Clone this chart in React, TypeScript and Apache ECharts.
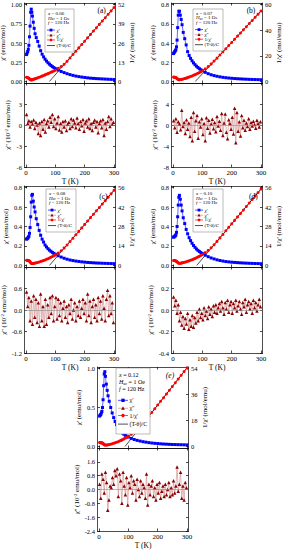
import React, { useEffect, useRef } from 'react';
import * as echarts from 'echarts';

const FONT = '"Liberation Serif", "Times New Roman", serif';

// Temperature grid (K) of the top (chi', 1/chi') curves
const T_TOP = [2, 4, 6, 8, 10, 12, 14, 16, 18, 20, 22, 25, 28, 31, 35, 40, 45, 50, 55, 60, 65, 70, 75, 80, 85, 90, 95, 100, 110, 120, 130, 140, 150, 160, 170, 180, 190, 200, 210, 220, 230, 240, 250, 260, 270, 280, 290, 300];
// Temperature grid (K) of the chi'' curves
const T_BOT = [2, 6, 10, 14, 18, 22, 26, 30, 34, 38, 42, 46, 50, 54, 58, 62, 66, 70, 74, 78, 82, 86, 90, 94, 98, 102, 106, 110, 114, 118, 122, 126, 130, 134, 138, 142, 146, 150, 154, 158, 162, 166, 170, 174, 178, 182, 186, 190, 194, 198, 202, 206, 210, 214, 218, 222, 226, 230, 234, 238, 242, 246, 250, 254, 258, 262, 266, 270, 274, 278, 282, 286, 290, 294, 298];

// (a) x = 0.06
const CHI_A = [0.35, 0.37, 0.39, 0.42, 0.47, 0.58, 0.72, 0.90, 0.94, 0.90, 0.85, 0.77, 0.69, 0.62, 0.57, 0.52, 0.46, 0.40, 0.355, 0.32, 0.29, 0.265, 0.243, 0.225, 0.208, 0.193, 0.18, 0.168, 0.148, 0.13, 0.115, 0.101, 0.089, 0.079, 0.07, 0.063, 0.057, 0.052, 0.047, 0.043, 0.04, 0.037, 0.035, 0.033, 0.031, 0.029, 0.027, 0.025];
const INV_A = [2.86, 2.7, 2.56, 2.38, 2.13, 1.72, 1.39, 1.11, 1.06, 1.15, 1.25, 1.43, 1.61, 1.82, 2.08, 2.44, 2.82, 3.2, 3.6, 4.0, 4.45, 4.9, 5.3, 5.75, 6.2, 6.65, 7.1, 7.6, 8.85, 10.1, 11.6, 13.6, 15.9, 18.2, 20.4, 22.7, 25.0, 27.2, 29.5, 31.8, 34.1, 36.3, 38.6, 40.9, 43.1, 45.4, 47.7, 50.0];
const LOSS_A = [1.5, 0.2, 0.6, -0.3, 0.5, 0.1, 0.7, -0.5, 0.4, 0.0, -1.2, 0.3, -1.5, 0.5, -0.6, 0.8, -1.0, 0.2, 0.6, -0.3, 1.1, 0.4, 1.5, -0.2, 0.9, -0.5, 0.3, 1.2, -0.7, 0.2, -1.0, 0.5, -0.3, 0.6, -0.8, 0.1, 0.4, -0.5, 0.9, -0.2, 0.7, 0.3, -0.4, 1.0, 0.2, -0.6, 0.5, -0.1, 0.8, -0.9, 0.3, 0.6, -0.3, 0.9, -0.5, 0.2, -0.8, 0.4, 0.7, -0.3, 0.5, -1.1, 0.2, 0.6, -0.4, 0.8, -1.5, 0.3, -0.6, 0.5, 1.2, -0.2, 0.9, 0.1, 0.4];
const FIT_T_A = [80, 300];
const FIT_V_A = [0, 50];

// (b) x = 0.07
const CHI_B = [0.29, 0.30, 0.31, 0.32, 0.33, 0.36, 0.43, 0.56, 0.69, 0.73, 0.73, 0.69, 0.645, 0.59, 0.51, 0.445, 0.38, 0.31, 0.27, 0.24, 0.215, 0.193, 0.175, 0.159, 0.145, 0.133, 0.122, 0.112, 0.095, 0.081, 0.070, 0.061, 0.054, 0.048, 0.043, 0.039, 0.0357, 0.0329, 0.0304, 0.0282, 0.0265, 0.0248, 0.0234, 0.0221, 0.021, 0.020, 0.019, 0.018];
const INV_B = [3.4, 3.3, 3.2, 3.1, 3.0, 2.75, 2.3, 1.8, 1.45, 1.37, 1.37, 1.45, 1.55, 1.7, 1.95, 2.25, 2.6, 3.0, 3.4, 3.85, 4.3, 4.8, 5.3, 5.8, 6.4, 7.0, 7.6, 8.3, 9.8, 11.6, 13.7, 15.9, 18.2, 20.6, 23.1, 25.5, 28.0, 30.4, 32.9, 35.4, 37.8, 40.3, 42.7, 45.2, 47.6, 50.1, 52.5, 55.0];
const LOSS_B = [0.8, -0.5, 1.2, -1.4, 0.6, 0.2, -0.9, 2.8, -0.3, 0.5, -1.6, 1.0, -0.8, 0.4, -2.2, 1.5, -3.0, 2.4, -1.2, 0.8, 1.8, -2.5, 0.6, -0.4, 1.2, -1.8, 0.3, -3.0, 1.4, -0.6, 0.9, -1.5, 0.2, 1.1, -0.7, 0.5, -1.3, 1.6, -0.2, 0.7, -1.0, 2.2, -2.0, 0.4, 2.1, -1.4, -2.6, 1.0, 0.3, -0.8, 1.5, -1.7, 3.2, -3.4, 2.4, -1.2, 0.6, -2.1, 1.8, -0.5, 0.9, -1.0, 0.4, -0.3, 1.2, -0.8, 0.5, -0.2, 0.7, 0.1, -0.6, 0.9, 0.3, -0.4, 0.6];
const FIT_T_B = [76, 300];
const FIT_V_B = [0, 55];

// (c) x = 0.08
const CHI_C = [0.27, 0.275, 0.28, 0.29, 0.30, 0.33, 0.39, 0.50, 0.65, 0.72, 0.73, 0.66, 0.60, 0.55, 0.48, 0.42, 0.36, 0.31, 0.27, 0.24, 0.21, 0.19, 0.172, 0.157, 0.145, 0.134, 0.124, 0.115, 0.099, 0.086, 0.074, 0.064, 0.056, 0.050, 0.045, 0.041, 0.037, 0.034, 0.031, 0.029, 0.027, 0.025, 0.024, 0.0226, 0.0215, 0.0204, 0.0194, 0.0185];
const INV_C = [3.7, 3.65, 3.6, 3.5, 3.4, 3.1, 2.6, 2.0, 1.55, 1.4, 1.38, 1.45, 1.55, 1.7, 1.9, 2.15, 2.45, 2.8, 3.15, 3.55, 3.95, 4.4, 4.85, 5.3, 5.85, 6.4, 7.0, 7.6, 9.0, 10.6, 12.6, 14.7, 17.2, 19.6, 22.1, 24.5, 27.0, 29.5, 31.9, 34.4, 36.8, 39.3, 41.7, 44.2, 46.6, 49.1, 51.6, 54.0];
const LOSS_C = [0.5, 0.1, 0.35, -0.3, 0.25, -0.4, 0.4, -0.2, 0.3, -0.35, 0.2, -0.45, 0.45, -0.3, 0.1, -0.45, 0.3, -0.4, 0.15, -0.2, 0.35, -0.1, 0.4, -0.3, 0.1, 0.35, -0.25, 0.3, -0.15, 0.2, -0.3, 0.05, 0.25, -0.2, 0.1, -0.35, 0.15, -0.1, 0.3, -0.25, 0.0, 0.2, -0.3, 0.1, -0.15, 0.25, -0.2, 0.05, 0.3, -0.1, 0.2, -0.3, 0.45, -0.15, 0.25, -0.35, 0.1, 0.3, -0.2, 0.15, -0.3, 0.35, -0.1, 0.25, -0.25, 0.4, 0.05, -0.3, 0.3, 0.55, -0.15, 0.4, -0.1, 0.2, -0.35];
const FIT_T_C = [80, 300];
const FIT_V_C = [0, 54];

// (d) x = 0.10
const CHI_D = [0.29, 0.295, 0.30, 0.305, 0.315, 0.34, 0.40, 0.50, 0.62, 0.70, 0.72, 0.68, 0.62, 0.56, 0.49, 0.43, 0.37, 0.325, 0.285, 0.255, 0.228, 0.205, 0.186, 0.169, 0.155, 0.143, 0.132, 0.122, 0.105, 0.090, 0.077, 0.067, 0.058, 0.051, 0.045, 0.040, 0.0365, 0.0334, 0.031, 0.0287, 0.0267, 0.025, 0.0236, 0.0223, 0.0211, 0.020, 0.019, 0.018];
const INV_D = [3.55, 3.5, 3.45, 3.35, 3.2, 3.0, 2.6, 2.1, 1.75, 1.6, 1.55, 1.6, 1.7, 1.85, 2.05, 2.3, 2.6, 2.95, 3.3, 3.7, 4.1, 4.55, 5.0, 5.5, 6.05, 6.6, 7.2, 7.8, 9.2, 10.8, 12.7, 14.8, 17.3, 19.8, 22.3, 24.9, 27.4, 29.9, 32.4, 34.9, 37.4, 39.9, 42.4, 44.9, 47.5, 50.0, 52.5, 55.0];
const LOSS_D = [0.12, 0.04, 0.09, -0.03, 0.05, -0.10, -0.02, -0.14, -0.06, -0.17, -0.08, -0.13, -0.03, -0.18, -0.09, -0.15, -0.05, -0.16, -0.07, -0.12, -0.02, -0.10, 0.01, -0.07, -0.03, -0.09, 0.02, -0.05, -0.01, -0.08, 0.03, -0.04, 0.01, -0.06, 0.04, -0.02, 0.05, -0.03, 0.02, 0.06, -0.01, 0.08, 0.02, -0.04, 0.07, 0.01, 0.09, -0.02, 0.05, 0.08, -0.03, 0.06, 0.02, 0.09, -0.01, 0.04, 0.08, 0.01, -0.04, 0.07, 0.03, 0.10, -0.02, 0.05, 0.08, 0.01, 0.06, -0.03, 0.09, 0.02, 0.07, -0.01, 0.05, 0.10, 0.03];
const FIT_T_D = [81, 300];
const FIT_V_D = [0, 55];

// (e) x = 0.12
const CHI_E = [0.39, 0.40, 0.41, 0.43, 0.45, 0.50, 0.60, 0.78, 0.93, 0.96, 0.90, 0.80, 0.72, 0.65, 0.58, 0.50, 0.43, 0.37, 0.32, 0.28, 0.245, 0.215, 0.192, 0.173, 0.157, 0.143, 0.131, 0.12, 0.103, 0.089, 0.078, 0.069, 0.061, 0.055, 0.049, 0.044, 0.040, 0.037, 0.034, 0.031, 0.029, 0.027, 0.025, 0.024, 0.023, 0.022, 0.021, 0.020];
const INV_E = [2.7, 2.65, 2.6, 2.55, 2.45, 2.3, 2.0, 1.6, 1.2, 1.05, 1.0, 1.0, 1.05, 1.15, 1.3, 1.55, 1.85, 2.15, 2.5, 2.9, 3.3, 3.75, 4.2, 4.7, 5.25, 5.8, 6.4, 7.0, 8.4, 9.9, 11.6, 13.5, 15.8, 18.3, 20.9, 23.5, 26.1, 28.7, 31.3, 33.8, 36.4, 39.0, 41.6, 44.2, 46.8, 49.3, 51.9, 54.5];
const LOSS_E = [0.3, -0.5, 0.9, 0.6, -0.2, 1.0, 0.4, -1.2, -0.6, 0.2, 0.1, 0.7, 0.3, 1.1, 0.8, 1.2, -0.4, 0.9, 0.5, -0.8, 1.0, 0.2, -0.3, 0.7, -0.9, 0.4, 0.1, 0.8, -0.2, 0.5, 0.3, -0.6, 0.6, 0.0, -0.4, 0.5, -0.2, 0.3, 0.1, -0.5, 0.9, -0.9, 0.3, -0.3, 0.2, 0.5, -0.4, 0.1, -0.6, 0.3, -0.2, 0.4, -0.5, -0.1, 0.2, -0.4, 0.3, -0.3, 0.0, 0.4, -0.4, 0.1, -0.3, 0.5, -0.2, 0.2, 1.3, -0.1, 0.3, 1.0, -0.5, 0.2, -0.6, 0.4, 0.1];
const FIT_T_E = [89, 300];
const FIT_V_E = [0, 54.5];

// Tick labels
const X_TICKS = [0, 100, 200, 300];
const CHI_TICKS_A = [0, 0.25, 0.5, 0.75, 1.0];
const CHI_TICKS_B = [0, 0.2, 0.4, 0.6, 0.8];
const CHI_TICKS_E = [0, 0.5, 1.0];
const INV_TICKS_A = [0, 13, 26, 39, 52];
const INV_TICKS_B = [0, 20, 40, 60];
const INV_TICKS_C = [0, 14, 28, 42, 56];
const INV_TICKS_E = [0, 18, 36, 54];
const LOSS_TICKS_A = [-6, -3, 0, 3, 6];
const LOSS_TICKS_B = [-8, -4, 0, 4, 8];
const LOSS_TICKS_C = [-1.2, -0.6, 0, 0.6, 1.2];
const LOSS_TICKS_D = [-0.4, -0.2, 0, 0.2, 0.4];
const LOSS_TICKS_E = [-2.4, -1.6, -0.8, 0, 0.8, 1.6, 2.4];

const PANELS = [
  { id: '(a)', xv: '0.06', italic: false, left: 24.5, top: 3, topH: 80, botH: 84,
    chiMin: -0.02, chiMax: 1.02, chiTicks: CHI_TICKS_A, chiDec: 2,
    invMin: -1.04, invMax: 53.04, invTicks: INV_TICKS_A,
    lossMin: -6, lossMax: 6, lossTicks: LOSS_TICKS_A, lossDec: 0,
    chi: CHI_A, inv: INV_A, loss: LOSS_A, fitT: FIT_T_A, fitV: FIT_V_A,
    leg: [45, 9, 29, 43, 5], lab: [101.7, 10.7] },
  { id: '(b)', xv: '0.07', italic: false, left: 171.5, top: 3, topH: 80, botH: 84,
    chiMin: -0.016, chiMax: 0.816, chiTicks: CHI_TICKS_B, chiDec: 1,
    invMin: -1.2, invMax: 61.2, invTicks: INV_TICKS_B,
    lossMin: -8, lossMax: 8, lossTicks: LOSS_TICKS_B, lossDec: 0,
    chi: CHI_B, inv: INV_B, loss: LOSS_B, fitT: FIT_T_B, fitV: FIT_V_B,
    leg: [193, 9, 30, 42, 5], lab: [251, 10.5] },
  { id: '(c)', xv: '0.08', italic: false, left: 24.5, top: 186, topH: 81, botH: 86,
    chiMin: -0.016, chiMax: 0.816, chiTicks: CHI_TICKS_B, chiDec: 1,
    invMin: -1.12, invMax: 57.12, invTicks: INV_TICKS_C,
    lossMin: -1.2, lossMax: 1.2, lossTicks: LOSS_TICKS_C, lossDec: 1,
    chi: CHI_C, inv: INV_C, loss: LOSS_C, fitT: FIT_T_C, fitV: FIT_V_C,
    leg: [46, 189, 30, 43, 5], lab: [103.3, 196.7] },
  { id: '(d)', xv: '0.10', italic: false, left: 171.5, top: 186, topH: 81, botH: 86,
    chiMin: -0.016, chiMax: 0.816, chiTicks: CHI_TICKS_B, chiDec: 1,
    invMin: -1.12, invMax: 57.12, invTicks: INV_TICKS_C,
    lossMin: -0.4, lossMax: 0.4, lossTicks: LOSS_TICKS_D, lossDec: 1,
    chi: CHI_D, inv: INV_D, loss: LOSS_D, fitT: FIT_T_D, fitV: FIT_V_D,
    leg: [193, 189, 30, 43, 5], lab: [253.3, 196.7] },
  { id: '(e)', xv: '0.12', italic: true, left: 97.5, top: 367, topH: 81, botH: 83,
    chiMin: -0.02, chiMax: 1.02, chiTicks: CHI_TICKS_E, chiDec: 1,
    invMin: -1.08, invMax: 55.08, invTicks: INV_TICKS_E,
    lossMin: -2.4, lossMax: 2.4, lossTicks: LOSS_TICKS_E, lossDec: 1,
    chi: CHI_E, inv: INV_E, loss: LOSS_E, fitT: FIT_T_E, fitV: FIT_V_E,
    leg: [116, 368, 34, 66, 6], lab: [170, 375] },
];

const BLUE = '#0000ff';
const RED = '#ff0000';
const MAROON = '#8b0000';
const PINK = '#cf8a8a';

const fmt = (dec: number) => (v: number) => (dec === 0 ? String(Math.round(v)) : Number(v).toFixed(dec));

const lineStyle = { color: '#000', width: 0.7 };

function xAx(gridIndex: number, position: string, labels: boolean) {
  return {
    type: 'value', gridIndex, position, min: -5, max: 305,
    axisLine: { show: true, onZero: false, lineStyle },
    axisTick: { show: true, inside: true, length: 2.5, customValues: X_TICKS, lineStyle },
    axisLabel: labels
      ? { show: true, customValues: X_TICKS, fontSize: 7, margin: 2.5, color: '#000', fontFamily: FONT }
      : { show: false },
    splitLine: { show: false },
    name: labels ? 'T (K)' : '',
    nameLocation: 'middle', nameGap: 7.5,
    nameTextStyle: { fontSize: 7.5, fontFamily: FONT, color: '#000' },
  };
}

function yAx(gridIndex: number, position: string, min: number, max: number, ticks: number[], labels: number[] | null, dec: number, name: string, nameGap: number) {
  return {
    type: 'value', gridIndex, position, min, max,
    axisLine: { show: true, onZero: false, lineStyle },
    axisTick: { show: true, inside: true, length: 2.5, customValues: ticks, lineStyle },
    axisLabel: labels
      ? { show: true, customValues: labels, formatter: fmt(dec), fontSize: 6.5, margin: 2.5, color: '#000', fontFamily: FONT }
      : { show: false },
    splitLine: { show: false },
    name, nameLocation: 'middle', nameRotate: 90, nameGap,
    nameTextStyle: {
      fontSize: 7, fontFamily: FONT, color: '#000',
      rich: { sup: { fontSize: 4.8, fontFamily: FONT, verticalAlign: 'top', padding: [0, 0, 3, 0] } },
    },
  };
}

function legendEls(p: any) {
  const [x, y, w, h, fs] = p.leg;
  const fr = [0.1, 0.21, 0.32, 0.49, 0.61, 0.72, 0.85];
  const z = 50;
  const els: any[] = [
    { type: 'rect', z, shape: { x, y, width: w, height: h }, style: { fill: '#fff', stroke: '#777', lineWidth: 0.5 } },
  ];
  const rich = {
    i: { fontStyle: 'italic', fontSize: fs, fontFamily: FONT, fill: '#000' },
    s: { fontSize: fs * 0.7, fontFamily: FONT, fill: '#000', padding: [fs * 0.5, 0, 0, 0] },
  };
  const head = [`{i|x} = ${p.xv}`, `{i|H}{s|ac} = 1 Oe`, `{i|f} = 120 Hz`];
  head.forEach((t, i) => {
    els.push({ type: 'text', z, x: x + 3, y: y + fr[i] * h, style: { text: t, rich, fontSize: fs, fontFamily: FONT, fill: '#000', verticalAlign: 'middle', align: 'left' } });
  });
  const entries = [
    { t: "χ'", line: BLUE, mk: 'rect', c: BLUE },
    { t: "χ''", line: PINK, mk: 'tri', c: MAROON },
    { t: "1/χ'", line: RED, mk: 'circle', c: RED },
    { t: '(T-θ)/C', line: '#000', mk: 'none', c: '#000' },
  ];
  const r = fs * 0.28;
  entries.forEach((e, j) => {
    const cy = y + fr[3 + j] * h;
    const x1 = x + 2, x2 = x + fs * 2, cx = (x1 + x2) / 2;
    els.push({ type: 'line', z, shape: { x1, y1: cy, x2, y2: cy }, style: { stroke: e.line, lineWidth: 0.7 } });
    if (e.mk === 'rect') els.push({ type: 'rect', z, shape: { x: cx - r, y: cy - r, width: 2 * r, height: 2 * r }, style: { fill: e.c } });
    if (e.mk === 'circle') els.push({ type: 'circle', z, shape: { cx, cy, r }, style: { fill: e.c } });
    if (e.mk === 'tri') els.push({ type: 'polygon', z, shape: { points: [[cx, cy - r * 1.2], [cx - r * 1.1, cy + r * 0.9], [cx + r * 1.1, cy + r * 0.9]] }, style: { fill: e.c } });
    els.push({ type: 'text', z, x: x2 + 1.5, y: cy, style: { text: e.t, fontSize: fs, fontFamily: FONT, fill: '#000', verticalAlign: 'middle', align: 'left' } });
  });
  els.push({ type: 'text', z, x: p.lab[0], y: p.lab[1], style: { text: p.id, fontSize: 7.5, fontStyle: p.italic ? 'italic' : 'normal', fontFamily: FONT, fill: '#000', align: 'center', verticalAlign: 'middle' } });
  return els;
}

function buildOption() {
  const grid: any[] = [], xAxis: any[] = [], yAxis: any[] = [], series: any[] = [], graphic: any[] = [];
  PANELS.forEach((p) => {
    const g = grid.length;
    grid.push({ left: p.left, top: p.top, width: 91, height: p.topH, containLabel: false, outerBoundsMode: 'none' });
    grid.push({ left: p.left, top: p.top + p.topH, width: 91, height: p.botH, containLabel: false, outerBoundsMode: 'none' });
    const xb = xAxis.length;
    xAxis.push(xAx(g, 'bottom', false), xAx(g, 'top', false), xAx(g + 1, 'bottom', true), xAx(g + 1, 'top', false));
    const yb = yAxis.length;
    yAxis.push(
      yAx(g, 'left', p.chiMin, p.chiMax, p.chiTicks, p.chiTicks, p.chiDec, "χ' (emu/mol)", 12.5),
      yAx(g, 'right', p.invMin, p.invMax, p.invTicks, p.invTicks, 0, "1/χ' (mol/emu)", 11),
      yAx(g + 1, 'left', p.lossMin, p.lossMax, p.lossTicks, p.lossTicks.slice(0, -1), p.lossDec, "χ'' (10{sup|-2} emu/mol)", 12.5),
      yAx(g + 1, 'right', p.lossMin, p.lossMax, p.lossTicks, null, 0, '', 0),
    );
    series.push({
      type: 'line', xAxisIndex: xb, yAxisIndex: yb,
      data: T_TOP.map((t, i) => [t, p.chi[i]]),
      symbol: 'rect', symbolSize: 3, itemStyle: { color: BLUE }, lineStyle: { color: BLUE, width: 0.6 },
    });
    series.push({
      type: 'line', xAxisIndex: xb, yAxisIndex: yb + 1,
      data: T_TOP.map((t, i) => [t, p.inv[i]]),
      symbol: 'circle', symbolSize: 3, itemStyle: { color: RED }, lineStyle: { color: RED, width: 0.6 },
    });
    series.push({
      type: 'line', xAxisIndex: xb, yAxisIndex: yb + 1,
      data: p.fitT.map((t: number, i: number) => [t, p.fitV[i]]),
      symbol: 'none', lineStyle: { color: '#000', width: 0.7 },
    });
    series.push({
      type: 'line', xAxisIndex: xb + 2, yAxisIndex: yb + 2,
      data: T_BOT.map((t, i) => [t, p.loss[i]]),
      symbol: 'triangle', symbolSize: 3.5, itemStyle: { color: MAROON }, lineStyle: { color: PINK, width: 0.6 },
      markLine: { silent: true, symbol: 'none', label: { show: false }, lineStyle: { color: '#888', width: 0.6, type: 'solid' }, data: [{ yAxis: 0 }] },
    });
    graphic.push(...legendEls(p));
  });
  return { animation: false, backgroundColor: '#fff', grid, xAxis, yAxis, series, graphic };
}

export default function App() {
  const ref = useRef<HTMLDivElement>(null);
  useEffect(() => {
    if (!ref.current) return;
    const chart = echarts.init(ref.current, null, { renderer: 'svg' });
    chart.setOption(buildOption() as any);
    return () => chart.dispose();
  }, []);
  return <div ref={ref} style={{ position: 'absolute', left: 0, top: 0, width: 283, height: 550, background: '#fff' }} />;
}
